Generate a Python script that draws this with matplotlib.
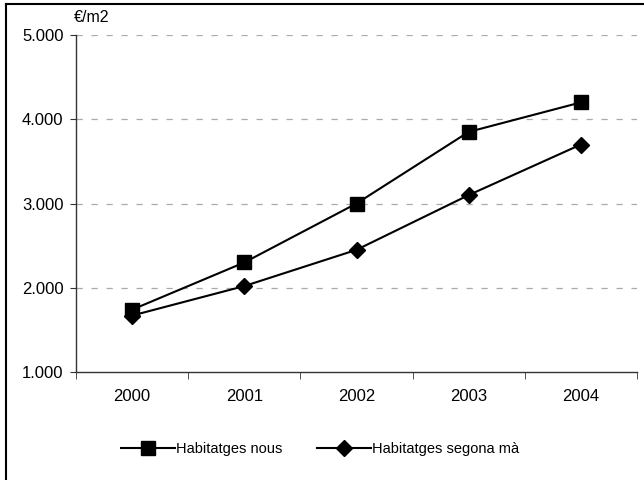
import matplotlib.pyplot as plt
from matplotlib.lines import Line2D
from matplotlib import font_manager

years = ['2000', '2001', '2002', '2003', '2004']
nous = [1740, 2300, 3000, 3850, 4200]
segona_ma = [1670, 2020, 2450, 3100, 3700]
y_ticks = [1000, 2000, 3000, 4000, 5000]
y_labels = ['1.000', '2.000', '3.000', '4.000', '5.000']

names = {f.name for f in font_manager.fontManager.ttflist}
family = 'Liberation Sans Narrow' if 'Liberation Sans Narrow' in names else 'Liberation Sans'
plt.rcParams['font.family'] = [family, 'DejaVu Sans']

fig = plt.figure(figsize=(6.44, 4.8), dpi=100)
ax = fig.add_axes([76 / 644, 1 - 372 / 480, (637 - 76) / 644, (372 - 35) / 480])

xs = range(len(years))
ax.plot(xs, nous, color='black', lw=1.5, marker='s', markersize=10.5, label='Habitatges nous')
ax.plot(xs, segona_ma, color='black', lw=1.5, marker='D', markersize=8, label='Habitatges segona mà')

ax.set_xlim(-0.5, len(years) - 0.5)
ax.set_ylim(1000, 5000)
ax.set_yticks(y_ticks)
ax.set_yticklabels(y_labels, fontsize=12)
ax.set_xticks(list(xs))
ax.set_xticklabels(years, fontsize=12)
ax.set_xticks([i - 0.5 for i in range(len(years) + 1)], minor=True)
ax.tick_params(axis='x', which='major', length=0, pad=12)
ax.tick_params(axis='x', which='minor', length=5, direction='out', color='#333333')
ax.tick_params(axis='y', length=4, direction='out', color='#333333', pad=5)

for v in y_ticks[1:]:
    ax.axhline(v, color='#aaaaaa', lw=0.9, ls=(0, (5, 7)), zorder=0)

for s in ['top', 'right']:
    ax.spines[s].set_visible(False)
for s in ['left', 'bottom']:
    ax.spines[s].set_color('#333333')
    ax.spines[s].set_linewidth(1)

ax.text(-0.004, 1.03, '€/m2', transform=ax.transAxes, fontsize=11.5, ha='left', va='bottom')

fig.legend(loc='center', bbox_to_anchor=(320 / 644, 1 - 449 / 480), ncol=2, frameon=False,
           fontsize=10.5, handlelength=3.7, columnspacing=2.4, handletextpad=0.05)

# outer frame (only top and left edges visible)
fig.add_artist(Line2D([6 / 644, 6 / 644], [0, 1 - 4 / 480], transform=fig.transFigure, color='black', lw=1.5))
fig.add_artist(Line2D([6 / 644, 1], [1 - 4 / 480, 1 - 4 / 480], transform=fig.transFigure, color='black', lw=1.5))

fig.savefig('out.png', dpi=100)
